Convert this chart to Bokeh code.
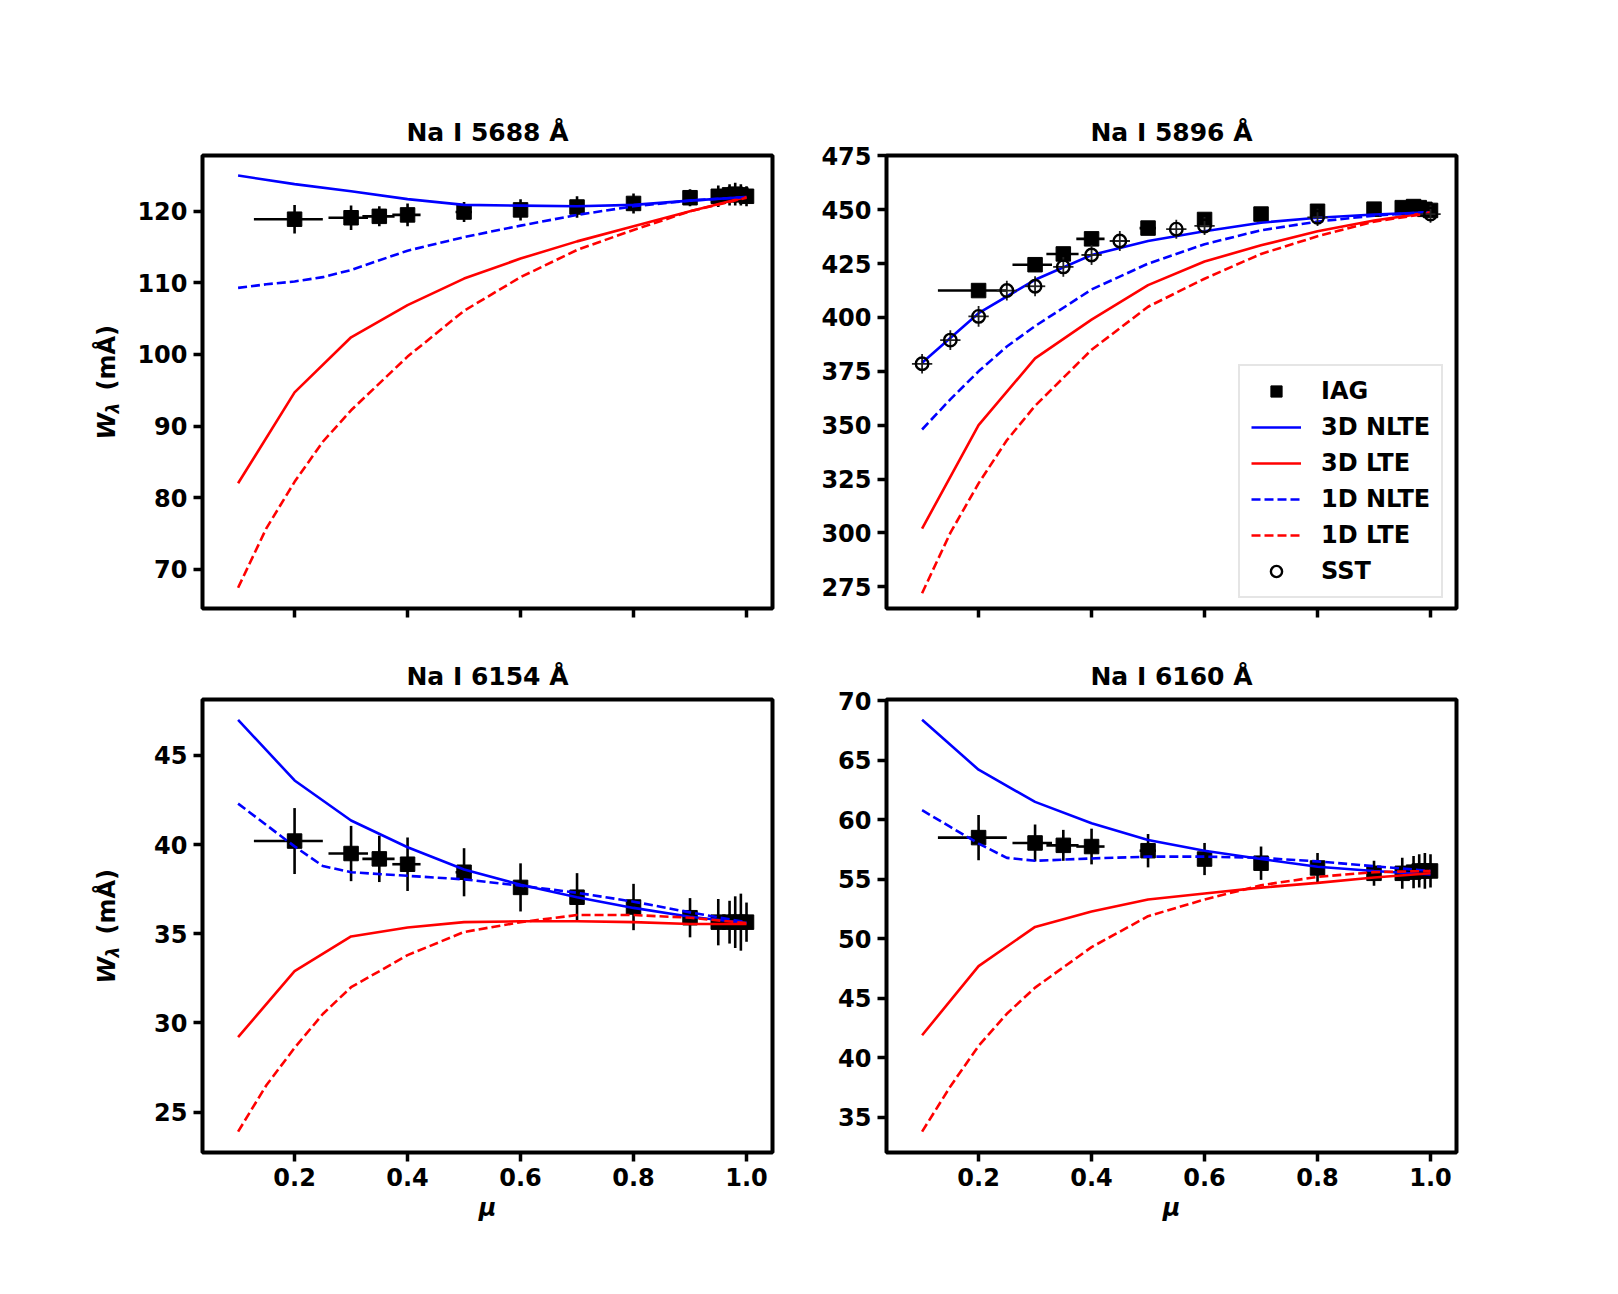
import math
from bokeh.plotting import figure
from bokeh.models import (ColumnDataSource, Range1d, FixedTicker, NumeralTickFormatter,
                          CustomJSTickFormatter, Legend, LegendItem)
from bokeh.core.properties import value
from bokeh.layouts import column, row
from bokeh.embed import file_html
from bokeh.resources import INLINE

FONT = "DejaVu Sans"

# ---------------- data ----------------
MU_IAG = [0.2, 0.3, 0.35, 0.4, 0.5, 0.6, 0.7, 0.8, 0.9, 0.95, 0.97, 0.98, 0.99, 1.0]
XERR_LO = [0.072, 0.040, 0.030, 0.027, 0.015, 0.011, 0.008, 0.006, 0.004, 0.003, 0.002, 0.002, 0.001, 0.0]
XERR_HI = [0.050, 0.030, 0.027, 0.023, 0.014, 0.011, 0.008, 0.006, 0.004, 0.003, 0.002, 0.002, 0.001, 0.0]
MU_3D = [0.1, 0.2, 0.3, 0.4, 0.5, 0.6, 0.7, 0.8, 0.9, 1.0]
MU_1D = [0.1, 0.15, 0.2, 0.25, 0.3, 0.4, 0.5, 0.6, 0.7, 0.8, 0.9, 1.0]
MU_TICKS = [0.2, 0.4, 0.6, 0.8, 1.0]

# Na I 5688
IAG_5688 = [118.9, 119.1, 119.3, 119.5, 119.9, 120.2, 120.6, 121.1, 121.9, 122.1, 122.3, 122.4, 122.3, 122.1]
IAG_5688_ERR = [2.0, 1.7, 1.4, 1.6, 1.4, 1.5, 1.5, 1.4, 1.2, 1.5, 1.5, 1.6, 1.5, 1.4]
NLTE3D_5688 = [125.0, 123.8, 122.8, 121.7, 120.9, 120.8, 120.7, 120.9, 121.5, 122.0]
LTE3D_5688 = [82.0, 94.7, 102.4, 106.9, 110.6, 113.4, 115.8, 117.9, 120.0, 122.0]
NLTE1D_5688 = [109.3, 109.8, 110.2, 110.8, 111.8, 114.5, 116.4, 118.0, 119.5, 120.7, 121.5, 122.0]
LTE1D_5688 = [67.4, 75.7, 82.2, 87.8, 92.2, 99.7, 106.1, 110.8, 114.6, 117.4, 120.0, 121.9]
YTICKS_5688 = [70, 80, 90, 100, 110, 120]

# Na I 5896
IAG_5896 = [412.5, 424.5, 429.5, 436.5, 441.5, 445.5, 448.0, 449.3, 450.3, 451.0, 451.5, 451.0, 450.2, 449.7]
IAG_5896_ERR = [2.0, 1.8, 1.7, 1.7, 1.6, 1.6, 1.5, 1.5, 1.5, 1.5, 1.5, 1.5, 1.5, 1.5]
NLTE3D_5896 = [379.0, 402.0, 417.5, 429.0, 435.5, 440.0, 444.0, 446.3, 447.8, 448.8]
LTE3D_5896 = [302.0, 350.0, 381.0, 399.0, 415.0, 426.0, 433.5, 440.0, 445.0, 448.8]
NLTE1D_5896 = [348.0, 362.0, 375.0, 386.5, 396.0, 413.0, 425.0, 434.0, 440.5, 444.5, 447.3, 449.0]
LTE1D_5896 = [272.0, 300.0, 323.0, 343.0, 359.0, 385.0, 405.0, 418.0, 429.5, 437.7, 444.5, 448.5]
MU_SST = [0.1, 0.15, 0.2, 0.25, 0.3, 0.35, 0.4, 0.45, 0.55, 0.6, 0.8, 1.0]
SST_XERR = [0.018, 0.018, 0.018, 0.018, 0.018, 0.018, 0.018, 0.018, 0.018, 0.018, 0.018, 0.018]
SST_5896 = [378.5, 389.5, 400.5, 412.5, 414.5, 423.5, 429.0, 435.5, 441.0, 442.5, 446.5, 448.0]
SST_5896_ERR = [4.5, 4.6, 4.8, 4.6, 4.6, 4.6, 4.6, 4.6, 4.4, 4.2, 4.0, 4.0]
YTICKS_5896 = [275, 300, 325, 350, 375, 400, 425, 450, 475]

# Na I 6154
IAG_6154 = [40.2, 39.5, 39.2, 38.9, 38.45, 37.6, 37.05, 36.5, 35.9, 35.65, 35.65, 35.65, 35.65, 35.65]
IAG_6154_ERR = [1.85, 1.55, 1.3, 1.5, 1.35, 1.35, 1.35, 1.3, 1.1, 1.3, 1.2, 1.45, 1.6, 1.1]
NLTE3D_6154 = [47.0, 43.6, 41.35, 39.85, 38.6, 37.75, 37.05, 36.45, 35.95, 35.6]
LTE3D_6154 = [29.2, 32.9, 34.85, 35.35, 35.65, 35.7, 35.7, 35.65, 35.55, 35.55]
NLTE1D_6154 = [42.3, 41.1, 39.9, 38.8, 38.45, 38.25, 38.05, 37.7, 37.3, 36.8, 36.2, 35.65]
LTE1D_6154 = [23.9, 26.5, 28.6, 30.5, 32.0, 33.8, 35.1, 35.65, 36.05, 36.05, 35.9, 35.6]
YTICKS_6154 = [25, 30, 35, 40, 45]

# Na I 6160
IAG_6160 = [58.5, 58.05, 57.85, 57.75, 57.4, 56.7, 56.35, 55.95, 55.5, 55.5, 55.6, 55.7, 55.7, 55.7]
IAG_6160_ERR = [1.9, 1.55, 1.3, 1.5, 1.4, 1.35, 1.4, 1.25, 1.05, 1.3, 1.35, 1.4, 1.5, 1.4]
NLTE3D_6160 = [68.4, 64.2, 61.5, 59.7, 58.3, 57.4, 56.7, 56.05, 55.7, 55.4]
LTE3D_6160 = [41.9, 47.7, 51.0, 52.3, 53.3, 53.8, 54.3, 54.7, 55.15, 55.5]
NLTE1D_6160 = [60.8, 59.4, 58.0, 56.8, 56.55, 56.75, 56.9, 56.9, 56.8, 56.5, 56.1, 55.7]
LTE1D_6160 = [33.8, 37.6, 41.0, 43.7, 45.9, 49.3, 51.9, 53.3, 54.5, 55.2, 55.6, 55.7]
YTICKS_6160 = [35, 40, 45, 50, 55, 60, 65, 70]

# y-axis label pieces
YLABEL_PARTS = ["W", "λ", "(mÅ)"]

FRAME_W, FRAME_H = 570, 453
YLAB_W = 130
LW = 2.6
DASH = "9 4"


def ylabel_fig(top, bottom):
    f = figure(frame_width=YLAB_W, frame_height=FRAME_H,
               x_range=Range1d(0, YLAB_W), y_range=Range1d(0, FRAME_H),
               x_axis_type=None, y_axis_type=None,
               output_backend="svg", toolbar_location=None,
               min_border_left=0, min_border_right=0,
               min_border_top=top, min_border_bottom=bottom)
    f.outline_line_color = None
    f.background_fill_color = "white"
    f.border_fill_color = "white"
    common = dict(angle=math.pi / 2, text_font=value(FONT), text_color="black",
                  text_align=value("left"), text_baseline=value("middle"))
    f.text(x=[106], y=[169], text=[YLABEL_PARTS[0]], text_font_size=value("24px"),
           text_font_style=value("bold italic"), **common)
    f.text(x=[112], y=[195], text=[YLABEL_PARTS[1]], text_font_size=value("17px"),
           text_font_style=value("bold italic"), **common)
    f.text(x=[106], y=[218], text=[YLABEL_PARTS[2]], text_font_size=value("24px"),
           text_font_style=value("bold"), **common)
    return f


def panel(title, iag, iag_err, n3, l3, n1, l1, yr, yticks, left_col, bottom_row,
          sst=None, sst_err=None, legend=False):
    p = figure(frame_width=FRAME_W, frame_height=FRAME_H,
               x_range=Range1d(0.037, 1.046), y_range=Range1d(*yr),
               output_backend="svg", toolbar_location=None,
               min_border_left=202 - YLAB_W if left_col else 104,
               min_border_right=10 if left_col else 20,
               min_border_top=71 if bottom_row else 155,
               min_border_bottom=100 if bottom_row else 20,
               title=title)
    p.grid.visible = False
    p.background_fill_color = "white"
    p.border_fill_color = "white"
    p.outline_line_color = "black"
    p.outline_line_width = 4
    p.title.text_font = FONT
    p.title.text_font_size = "25px"
    p.title.text_font_style = "bold"
    p.title.text_color = "black"
    p.title.align = "center"
    p.title.standoff = 17

    p.xaxis.ticker = FixedTicker(ticks=MU_TICKS)
    p.yaxis.ticker = FixedTicker(ticks=yticks)
    for ax in (p.xaxis, p.yaxis):
        ax.axis_line_color = None
        ax.major_tick_in = 0
        ax.major_tick_out = 9
        ax.major_tick_line_width = 3.5
        ax.minor_tick_line_color = None
        ax.major_label_text_font = FONT
        ax.major_label_text_font_size = "24px"
        ax.major_label_text_font_style = "bold"
        ax.major_label_text_color = "black"
        ax.major_label_standoff = 6
    if bottom_row:
        p.xaxis.formatter = NumeralTickFormatter(format="0.0")
        p.xaxis.axis_label = "μ"
        p.xaxis.axis_label_text_font = FONT
        p.xaxis.axis_label_text_font_size = "24px"
        p.xaxis.axis_label_text_font_style = "bold italic"
        p.xaxis.axis_label_text_color = "black"
        p.xaxis.axis_label_standoff = 5
    else:
        p.xaxis.formatter = CustomJSTickFormatter(code="return ''")

    src = ColumnDataSource(dict(
        x=MU_IAG, y=iag,
        ylo=[v - e for v, e in zip(iag, iag_err)],
        yhi=[v + e for v, e in zip(iag, iag_err)],
        xlo=[m - e for m, e in zip(MU_IAG, XERR_LO)],
        xhi=[m + e for m, e in zip(MU_IAG, XERR_HI)],
    ))
    p.segment(x0="x", y0="ylo", x1="x", y1="yhi", source=src, line_color="black", line_width=2.6)
    p.segment(x0="xlo", y0="y", x1="xhi", y1="y", source=src, line_color="black", line_width=2.6)
    r_iag = p.scatter("x", "y", source=src, marker="square", size=14.5,
                      fill_color="black", line_color="black")

    r_n3 = p.line(MU_3D, n3, line_color="blue", line_width=LW)
    r_l3 = p.line(MU_3D, l3, line_color="red", line_width=LW)
    r_n1 = p.line(MU_1D, n1, line_color="blue", line_width=LW, line_dash=DASH)
    r_l1 = p.line(MU_1D, l1, line_color="red", line_width=LW, line_dash=DASH)

    r_sst = None
    if sst is not None:
        ssrc = ColumnDataSource(dict(
            x=MU_SST, y=sst,
            ylo=[v - e for v, e in zip(sst, sst_err)],
            yhi=[v + e for v, e in zip(sst, sst_err)],
            xlo=[m - e for m, e in zip(MU_SST, SST_XERR)],
            xhi=[m + e for m, e in zip(MU_SST, SST_XERR)],
        ))
        p.segment(x0="x", y0="ylo", x1="x", y1="yhi", source=ssrc, line_color="#222222", line_width=1.8)
        p.segment(x0="xlo", y0="y", x1="xhi", y1="y", source=ssrc, line_color="#222222", line_width=1.8)
        r_sst = p.scatter("x", "y", source=ssrc, marker="circle", size=12.5,
                          fill_color=None, line_color="black", line_width=2.4)

    if legend:
        items = [LegendItem(label="IAG", renderers=[r_iag]),
                 LegendItem(label="3D NLTE", renderers=[r_n3]),
                 LegendItem(label="3D LTE", renderers=[r_l3]),
                 LegendItem(label="1D NLTE", renderers=[r_n1]),
                 LegendItem(label="1D LTE", renderers=[r_l1])]
        if r_sst is not None:
            items.append(LegendItem(label="SST", renderers=[r_sst]))
        lg = Legend(items=items, location=(352, 10),
                    label_text_font=FONT, label_text_font_size="24px",
                    label_text_font_style="bold", label_text_color="black",
                    glyph_width=50, glyph_height=28, label_height=28,
                    spacing=8, padding=11, label_standoff=20, margin=0,
                    border_line_color="#cccccc", border_line_width=2,
                    background_fill_color="white", background_fill_alpha=0.85)
        p.add_layout(lg)
    return p


p1 = panel("Na I 5688 Å", IAG_5688, IAG_5688_ERR, NLTE3D_5688, LTE3D_5688, NLTE1D_5688, LTE1D_5688,
           (64.5, 127.8), YTICKS_5688, True, False)
p2 = panel("Na I 5896 Å", IAG_5896, IAG_5896_ERR, NLTE3D_5896, LTE3D_5896, NLTE1D_5896, LTE1D_5896,
           (264.9, 475.2), YTICKS_5896, False, False, sst=SST_5896, sst_err=SST_5896_ERR, legend=True)
p3 = panel("Na I 6154 Å", IAG_6154, IAG_6154_ERR, NLTE3D_6154, LTE3D_6154, NLTE1D_6154, LTE1D_6154,
           (22.73, 48.14), YTICKS_6154, True, True)
p4 = panel("Na I 6160 Å", IAG_6160, IAG_6160_ERR, NLTE3D_6160, LTE3D_6160, NLTE1D_6160, LTE1D_6160,
           (32.05, 70.1), YTICKS_6160, False, True)

yl1 = ylabel_fig(155, 20)
yl3 = ylabel_fig(71, 100)

layout = column(row(yl1, p1, p2), row(yl3, p3, p4))
open("out.html", "w").write(file_html(layout, INLINE))
